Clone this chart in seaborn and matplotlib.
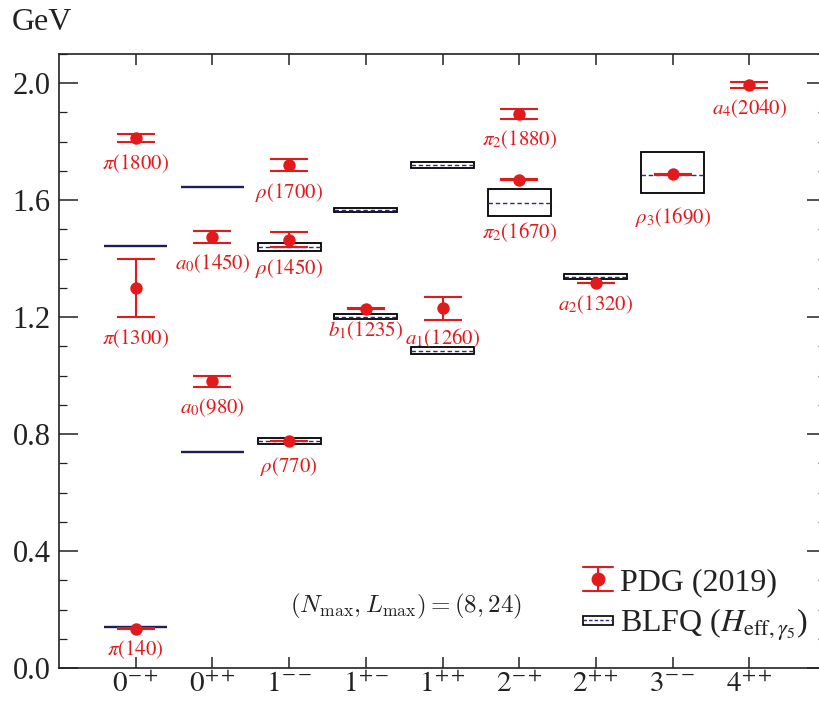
import matplotlib
matplotlib.use("Agg")
import numpy as np
import pandas as pd
import matplotlib.pyplot as plt
import seaborn as sns
from matplotlib.patches import Rectangle
from matplotlib.lines import Line2D
from matplotlib.ticker import MultipleLocator, FormatStrFormatter
from matplotlib.legend_handler import HandlerPatch, HandlerTuple

# J^{PC} channels along the x axis
channels = ["0^{-+}", "0^{++}", "1^{--}", "1^{+-}", "1^{++}",
            "2^{-+}", "2^{++}", "3^{--}", "4^{++}"]

# PDG (2019) light unflavored mesons: channel, name, mass and uncertainty [GeV]
pdg_channel = ["0^{-+}", "0^{-+}", "0^{-+}", "0^{++}", "0^{++}",
               "1^{--}", "1^{--}", "1^{--}", "1^{+-}", "1^{++}",
               "2^{-+}", "2^{-+}", "2^{++}", "3^{--}", "4^{++}"]
pdg_name = [r"\pi(140)", r"\pi(1300)", r"\pi(1800)", r"a_0(980)", r"a_0(1450)",
            r"\rho(770)", r"\rho(1450)", r"\rho(1700)", r"b_1(1235)", r"a_1(1260)",
            r"\pi_2(1670)", r"\pi_2(1880)", r"a_2(1320)", r"\rho_3(1690)", r"a_4(2040)"]
pdg_mass = [0.135, 1.300, 1.812, 0.980, 1.474,
            0.775, 1.465, 1.720, 1.2295, 1.230,
            1.6706, 1.895, 1.3169, 1.6888, 1.995]
pdg_err = [0.0002, 0.100, 0.014, 0.019, 0.019,
           0.0003, 0.025, 0.020, 0.0032, 0.040,
           0.0029, 0.016, 0.0009, 0.0021, 0.010]

# BLFQ (H_eff,gamma5) results: central mass and band [GeV]
blfq_channel = ["0^{-+}", "0^{-+}", "0^{++}", "0^{++}", "1^{--}", "1^{--}",
                "1^{+-}", "1^{+-}", "1^{++}", "1^{++}", "2^{-+}", "2^{++}", "3^{--}"]
blfq_mass = [0.140, 1.443, 0.738, 1.644, 0.776, 1.440,
             1.202, 1.566, 1.085, 1.720, 1.590, 1.338, 1.685]
blfq_low = [0.140, 1.443, 0.738, 1.644, 0.766, 1.426,
            1.193, 1.559, 1.073, 1.709, 1.545, 1.330, 1.624]
blfq_high = [0.140, 1.443, 0.738, 1.644, 0.786, 1.453,
             1.210, 1.573, 1.097, 1.730, 1.638, 1.347, 1.764]

RED = "#e31a1c"
NAVY = "#2a2a80"
DARK_NAVY = "#1c1c5e"
INK = "#222222"

sns.set_style("ticks")
plt.rcParams["font.family"] = ["Liberation Serif", "DejaVu Serif"]
plt.rcParams["mathtext.fontset"] = "stix"

pos = {c: i for i, c in enumerate(channels)}
pdg = pd.DataFrame({"channel": pdg_channel, "name": pdg_name,
                    "mass": pdg_mass, "err": pdg_err})
pdg["x"] = pdg["channel"].map(pos)
blfq = pd.DataFrame({"channel": blfq_channel, "mass": blfq_mass,
                     "low": blfq_low, "high": blfq_high})
blfq["x"] = blfq["channel"].map(pos)

fig = plt.figure(figsize=(8.19, 7.01), dpi=100)
ax = fig.add_axes([59 / 819, 33 / 701, (826 - 59) / 819, (668 - 54) / 701])

BOX_W = 0.82
# BLFQ bands: boxes with a dashed central value; degenerate bands as solid lines
band = blfq[blfq["high"] - blfq["low"] > 1e-6]
flat = blfq[blfq["high"] - blfq["low"] <= 1e-6]
ax.bar(band["x"], band["high"] - band["low"], bottom=band["low"], width=BOX_W,
       facecolor="white", edgecolor="black", linewidth=1.3, zorder=2)
ax.hlines(band["mass"], band["x"] - BOX_W / 2, band["x"] + BOX_W / 2,
          colors=NAVY, linestyles=(0, (3.2, 2.0)), linewidth=1.0, zorder=3)
ax.hlines(flat["mass"], flat["x"] - BOX_W / 2, flat["x"] + BOX_W / 2,
          colors=DARK_NAVY, linewidth=1.7, zorder=3)

# PDG values with uncertainties
ax.errorbar(pdg["x"], pdg["mass"], yerr=pdg["err"], fmt="none", ecolor=RED,
            elinewidth=1.5, capsize=14, capthick=1.5, zorder=4)
sns.scatterplot(data=pdg, x="x", y="mass", color=RED, s=80, linewidth=0,
                zorder=5, ax=ax, legend=False)

# state names below each PDG point
label_drop = {r"\rho(770)": 10, r"\pi_2(1670)": 29, r"\rho_3(1690)": 22,
              r"a_1(1260)": 4.5}
for _, r in pdg.iterrows():
    ax.annotate(f"${r['name']}$", xy=(r["x"], r["mass"] - r["err"]),
                xytext=(0, -label_drop.get(r["name"], 7)), textcoords="offset points",
                ha="center", va="top", color=RED, fontsize=15, zorder=6)

ax.text(0.452, 0.101, r"$(N_{\max}, L_{\max}) = (8, 24)$", transform=ax.transAxes,
        ha="center", va="center", fontsize=18, math_fontfamily="cm", color=INK)

ax.set_xlim(-1, 9)
ax.set_ylim(0, 2.1)
ax.set_xticks(range(len(channels)))
ax.set_xticklabels([f"${c}$" for c in channels])
ax.set_xlabel("")
ax.set_ylabel("")
ax.yaxis.set_major_locator(MultipleLocator(0.4))
ax.yaxis.set_minor_locator(MultipleLocator(0.1))
ax.yaxis.set_major_formatter(FormatStrFormatter("%.1f"))
ax.tick_params(axis="y", which="major", direction="in", length=14, width=1.1,
               left=True, right=True, labelsize=22, pad=6, colors=INK)
ax.tick_params(axis="y", which="minor", direction="in", length=6, width=0.9,
               left=True, right=True, colors=INK)
ax.tick_params(axis="x", which="major", direction="in", length=8, width=1.1,
               bottom=True, top=True, labelsize=21, pad=2.5, colors=INK)
ax.tick_params(axis="x", which="minor", bottom=False, top=False)
for s in ax.spines.values():
    s.set_visible(True)
    s.set_linewidth(1.2)
    s.set_color(INK)

fig.text(12 / 819, 1 - 22 / 701, "GeV", ha="left", va="center", fontsize=23, color=INK)


# legend: PDG symbol (dot with capped vertical bar) and BLFQ box with dashed centre
class PDGSymbol:
    def legend_artist(self, legend, orig_handle, fontsize, handlebox):
        x0, y0 = handlebox.xdescent, handlebox.ydescent
        w, h = handlebox.width, handlebox.height
        cx, cy = x0 + w / 2, y0 + h / 2
        e = 0.37 * fontsize
        tr = handlebox.get_transform()
        arts = [
            Line2D([cx, cx], [cy - e, cy + e], color=RED, lw=1.5, transform=tr),
            Line2D([x0, x0 + w], [cy - e, cy - e], color=RED, lw=1.5, transform=tr),
            Line2D([x0, x0 + w], [cy + e, cy + e], color=RED, lw=1.5, transform=tr),
            Line2D([cx], [cy], marker="o", ms=9, color=RED, ls="none", transform=tr),
        ]
        for a in arts:
            handlebox.add_artist(a)
        return arts[-1]


def thin_box(legend, orig_handle, xdescent, ydescent, width, height, fontsize):
    h = 0.42 * height
    return Rectangle((-xdescent, -ydescent + (height - h) / 2), width, h)


pdg_handle = Line2D([], [], color=RED)
box_handle = Rectangle((0, 0), 1, 1, facecolor="white", edgecolor="black", linewidth=1.2)
dash_handle = Line2D([], [], color=NAVY, linestyle=(0, (2.5, 1.5)), linewidth=1.0)
leg = ax.legend([pdg_handle, (box_handle, dash_handle)],
                ["PDG (2019)", r"BLFQ ($H_{\mathrm{eff},\gamma_5}$)"],
                handler_map={pdg_handle: PDGSymbol(),
                             Rectangle: HandlerPatch(patch_func=thin_box),
                             tuple: HandlerTuple(ndivide=1)},
                loc="upper left", bbox_to_anchor=(583 / 819, 1 - 568 / 701),
                bbox_transform=fig.transFigure, frameon=False, fontsize=23,
                borderpad=0, borderaxespad=0, handlelength=0.95,
                handletextpad=0.2, labelspacing=0.28)
for t in leg.get_texts():
    t.set_color(INK)

fig.savefig("out.png", dpi=100)
